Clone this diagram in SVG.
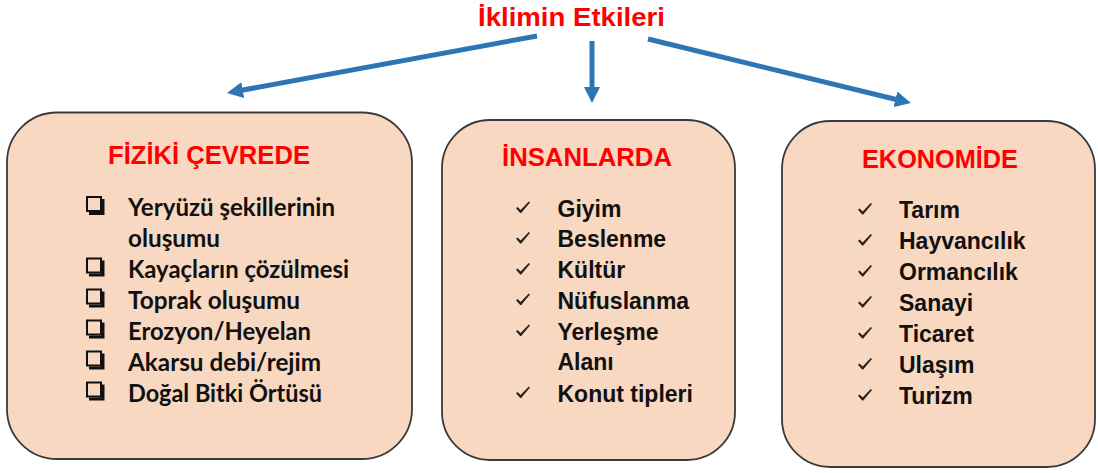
<svg xmlns="http://www.w3.org/2000/svg" xmlns:xlink="http://www.w3.org/1999/xlink" width="1098" height="473" viewBox="0 0 1098 473">
<style>
.box{fill:#F9D8C2;stroke:#3a3a3a;stroke-width:1.8}
.title{font-family:"Liberation Sans",Arial,sans-serif;font-weight:bold;fill:#FF0000}
.head{font-family:"Liberation Sans",Arial,sans-serif;font-weight:bold;font-size:25.5px;fill:#FF0000}
.itemA{font-family:"Liberation Sans",Arial,sans-serif;font-weight:bold;font-size:23px;fill:#111}
.itemC{font-family:Lato,"Open Sans",sans-serif;font-weight:bold;font-size:24px;fill:#111}
.conn{fill:none;stroke:#2E75B6;stroke-width:5}
</style>
<defs>
<marker id="ah" markerUnits="userSpaceOnUse" viewBox="0 0 16 16" markerWidth="16" markerHeight="16" refX="4" refY="8" orient="auto">
<path d="M0,0 L16,8 L0,16 Z" fill="#2E75B6"/>
</marker>
<g id="cb">
<rect x="1" y="1" width="14" height="14" fill="none" stroke="#111" stroke-width="2"/>
<path d="M15 3 H18.5 V19 H3 V16 H15 Z" fill="#111"/>
</g>
<path id="ck" d="M0,6.8 L1.6,5.6 L4.6,8.6 L12.8,0 L14,0.9 L5.2,11.6 L4.2,11.6 Z" fill="#222"/>
</defs>

<g id="title">
<text class="title" x="478" y="26" font-size="26.5" textLength="187" lengthAdjust="spacingAndGlyphs">İklimin Etkileri</text>
</g>

<g id="connectors">
<path class="conn" d="M537,36 L238.8,90.8" marker-end="url(#ah)"/>
<path class="conn" d="M592,41 L592,91" marker-end="url(#ah)"/>
<path class="conn" d="M648,39 L899.3,100.2" marker-end="url(#ah)"/>
</g>

<g id="node-fiziki">
<rect class="box" x="7" y="112.5" width="405" height="346.5" rx="50" ry="50"/>
<text class="head" x="108" y="163.5" textLength="202" lengthAdjust="spacingAndGlyphs">FİZİKİ ÇEVREDE</text>
<use xlink:href="#cb" x="86" y="196"/>
<text class="itemC" x="128" y="216" textLength="207" lengthAdjust="spacingAndGlyphs">Yeryüzü şekillerinin</text>
<text class="itemC" x="128" y="246.5" textLength="92" lengthAdjust="spacingAndGlyphs">oluşumu</text>
<use xlink:href="#cb" x="86" y="257.5"/>
<text class="itemC" x="128" y="277.5" textLength="221" lengthAdjust="spacingAndGlyphs">Kayaçların çözülmesi</text>
<use xlink:href="#cb" x="86" y="288.5"/>
<text class="itemC" x="128" y="308.5" textLength="172" lengthAdjust="spacingAndGlyphs">Toprak oluşumu</text>
<use xlink:href="#cb" x="86" y="319.5"/>
<text class="itemC" x="128" y="339.5" textLength="183" lengthAdjust="spacingAndGlyphs">Erozyon/Heyelan</text>
<use xlink:href="#cb" x="86" y="350.5"/>
<text class="itemC" x="128" y="370.5" textLength="193" lengthAdjust="spacingAndGlyphs">Akarsu debi/rejim</text>
<use xlink:href="#cb" x="86" y="381.5"/>
<text class="itemC" x="128" y="401.5" textLength="194" lengthAdjust="spacingAndGlyphs">Doğal Bitki Örtüsü</text>
</g>

<g id="node-insan">
<rect class="box" x="442" y="120" width="293" height="340" rx="48" ry="48"/>
<text class="head" x="502" y="166" textLength="170" lengthAdjust="spacingAndGlyphs">İNSANLARDA</text>
<use xlink:href="#ck" x="516" y="201.5"/>
<text class="itemA" x="557.5" y="216.5">Giyim</text>
<use xlink:href="#ck" x="516" y="232"/>
<text class="itemA" x="557.5" y="247">Beslenme</text>
<use xlink:href="#ck" x="516" y="263"/>
<text class="itemA" x="557.5" y="278">Kültür</text>
<use xlink:href="#ck" x="516" y="293.5"/>
<text class="itemA" x="557.5" y="308.5">Nüfuslanma</text>
<use xlink:href="#ck" x="516" y="324.5"/>
<text class="itemA" x="557.5" y="339.5">Yerleşme</text>
<text class="itemA" x="557.5" y="370">Alanı</text>
<use xlink:href="#ck" x="516" y="386.5"/>
<text class="itemA" x="557.5" y="401.5">Konut tipleri</text>
</g>

<g id="node-ekonomi">
<rect class="box" x="782" y="121" width="313" height="346" rx="48" ry="48"/>
<text class="head" x="862" y="168" textLength="156" lengthAdjust="spacingAndGlyphs">EKONOMİDE</text>
<use xlink:href="#ck" x="858" y="203"/>
<text class="itemA" x="899" y="218">Tarım</text>
<use xlink:href="#ck" x="858" y="234"/>
<text class="itemA" x="899" y="249">Hayvancılık</text>
<use xlink:href="#ck" x="858" y="265"/>
<text class="itemA" x="899" y="280">Ormancılık</text>
<use xlink:href="#ck" x="858" y="296"/>
<text class="itemA" x="899" y="311">Sanayi</text>
<use xlink:href="#ck" x="858" y="327"/>
<text class="itemA" x="899" y="342">Ticaret</text>
<use xlink:href="#ck" x="858" y="358"/>
<text class="itemA" x="899" y="373">Ulaşım</text>
<use xlink:href="#ck" x="858" y="389"/>
<text class="itemA" x="899" y="404">Turizm</text>
</g>
</svg>
